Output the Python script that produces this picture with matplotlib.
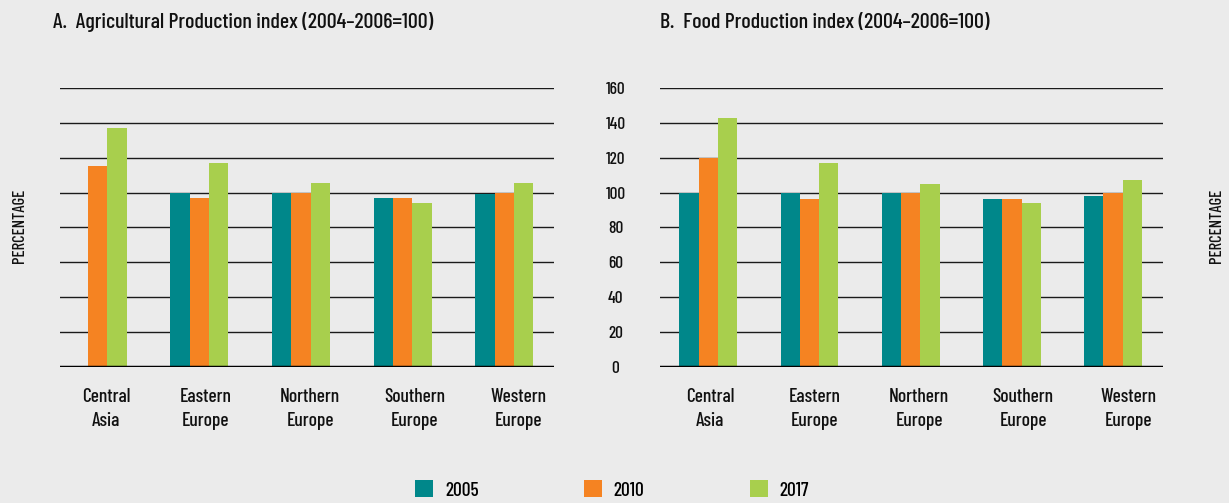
import numpy as np
import matplotlib
matplotlib.use("Agg")
import matplotlib.pyplot as plt
from matplotlib.patches import Patch

plt.rcParams['font.family'] = ['Barlow Condensed', 'IBM Plex Sans Condensed', 'DejaVu Sans']
plt.rcParams['font.weight'] = 500

categories = ["Central\nAsia", "Eastern\nEurope", "Northern\nEurope", "Southern\nEurope", "Western\nEurope"]
series_names = ["2005", "2010", "2017"]

agri_2005 = [np.nan, 100, 100, 97, 99]
agri_2010 = [115, 97, 100, 97, 100]
agri_2017 = [137, 117, 105.5, 94, 105.5]

food_2005 = [100, 100, 100, 96, 98]
food_2010 = [120, 96, 100, 96, 100]
food_2017 = [143, 117, 105, 94, 107]

y_ticks = [0, 20, 40, 60, 80, 100, 120, 140, 160]

colors = ["#00878A", "#F58322", "#A8CF4D"]
bg = "#EBEBEB"

fig = plt.figure(figsize=(12.29, 5.03), dpi=100, facecolor=bg)

ax1 = fig.add_axes([60/1229, (503-366.7)/503, 494/1229, 278.7/503])
ax2 = fig.add_axes([660/1229, (503-366.7)/503, 502.7/1229, 278.7/503])

x = np.arange(len(categories))
w = 0.19

def draw(ax, s05, s10, s17, xmin, label_shift):
    ax.set_facecolor(bg)
    for yt in y_ticks[1:]:
        ax.axhline(yt, color="#1a1a1a", lw=1.0, zorder=1)
    for i, (vals, c) in enumerate(zip([s05, s10, s17], colors)):
        ax.bar(x + (i - 1) * w, vals, width=w, color=c, zorder=2, linewidth=0)
    ax.axhline(0, color="black", lw=2.5, zorder=3)
    ax.set_ylim(0, 160)
    ax.set_xlim(xmin, 4.49)
    for sp in ax.spines.values():
        sp.set_visible(False)
    ax.set_xticks(x + np.array(label_shift))
    ax.set_xticklabels(categories, fontsize=14, color="#111111", linespacing=1.45)
    ax.tick_params(axis='x', length=0, pad=15)
    ax.set_yticks(y_ticks)

draw(ax1, agri_2005, agri_2010, agri_2017, -0.371, [0.085, 0.06, 0.09, 0.12, 0.14])
draw(ax2, food_2005, food_2010, food_2017, -0.477, [0.02, 0.05, 0.085, 0.11, 0.15])

ax1.tick_params(axis='y', length=0, labelleft=False)
ax2.tick_params(axis='y', length=0, pad=32)
ax2.set_yticklabels([str(v) for v in y_ticks], fontsize=12.5, color="#111111")
for lab in ax2.get_yticklabels():
    lab.set_ha('center')

fig.text(53/1229, 1 - 22/503, "A.  Agricultural Production index (2004\u20132006=100)",
         fontsize=15.8, ha='left', va='center', color="#111111")
fig.text(660/1229, 1 - 22/503, "B.  Food Production index (2004\u20132006=100)",
         fontsize=15.8, ha='left', va='center', color="#111111")

fig.text(20/1229, 1 - 226/503, "PERCENTAGE", rotation=90, fontsize=12,
         ha='center', va='center', color="#111111")
fig.text(1216/1229, 1 - 226/503, "PERCENTAGE", rotation=90, fontsize=12,
         ha='center', va='center', color="#111111")

handles = [Patch(facecolor=c, edgecolor='none') for c in colors]
fig.legend(handles, series_names, loc='center', bbox_to_anchor=(612/1229, 1 - 490/503),
           ncol=3, frameon=False, fontsize=14, handlelength=0.95, handleheight=0.95,
           handletextpad=0.6, columnspacing=5.4)

fig.savefig("out.png", dpi=100, facecolor=bg)
